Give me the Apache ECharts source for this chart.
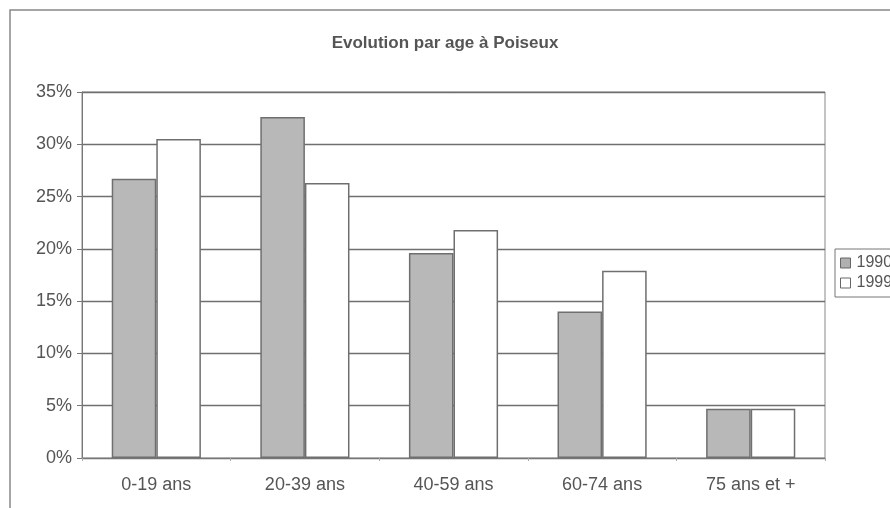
<!DOCTYPE html>
<html><head><meta charset="utf-8">
<script src="https://cdn.jsdelivr.net/npm/echarts@6/dist/echarts.min.js"></script>
<style>html,body{margin:0;padding:0;background:#fff}#c{width:890px;height:508px}</style>
</head><body><div id="c"></div>
<script>
const categories = ['0-19 ans', '20-39 ans', '40-59 ans', '60-74 ans', '75 ans et +'];
const values1990 = [26.7, 32.6, 19.6, 14.0, 4.7];
const values1999 = [30.5, 26.3, 21.8, 17.9, 4.7];
const seriesNames = ['1990', '1999'];
const title = 'Evolution par age à Poiseux';

const chart = echarts.init(document.getElementById('c'));
chart.setOption({
  backgroundColor: '#fff',
  animation: false,
  title: {
    text: title, left: 'center', top: 30,
    textStyle: { fontFamily: 'Liberation Sans, Arial', fontSize: 17, fontWeight: 'bold', color: '#555' }
  },
  graphic: [{
    type: 'polyline', shape: { points: [[10, 508], [10, 10], [890, 10]] },
    style: { stroke: '#888', lineWidth: 1.5, fill: null }
  }],
  legend: {
    orient: 'vertical', left: 835, top: 249, itemGap: 4,
    itemWidth: 10, itemHeight: 10, padding: [6, 5, 6, 5],
    borderColor: '#777', borderWidth: 1, borderRadius: 0,
    textStyle: { fontFamily: 'Liberation Sans, Arial', fontSize: 16, color: '#555', padding: [0, 0, 0, 1] },
    data: [
      { name: seriesNames[0], icon: 'rect', itemStyle: { color: '#b0b0b0', borderColor: '#666', borderWidth: 1 } },
      { name: seriesNames[1], icon: 'rect', itemStyle: { color: '#fff', borderColor: '#666', borderWidth: 1 } }
    ]
  },
  grid: { left: 82, right: 65, top: 92, bottom: 50, show: true, borderColor: '#888', borderWidth: 1, backgroundColor: '#fff' },
  xAxis: {
    type: 'category', data: categories,
    axisLine: { lineStyle: { color: '#777' } },
    axisTick: { show: true, alignWithLabel: false, length: 3, lineStyle: { color: '#aaa' } },
    axisLabel: { fontFamily: 'Liberation Sans, Arial', fontSize: 18, color: '#555', margin: 18 }
  },
  yAxis: {
    type: 'value', min: 0, max: 35, interval: 5,
    axisLine: { show: true, lineStyle: { color: '#777' } },
    axisTick: { show: true, length: 5, lineStyle: { color: '#777' } },
    splitLine: { lineStyle: { color: '#6f6f6f', width: 1.3 } },
    axisLabel: { fontFamily: 'Liberation Sans, Arial', fontSize: 18, color: '#555', margin: 10, formatter: v => v + '%' }
  },
  series: [
    { name: seriesNames[0], type: 'bar', data: values1990, barGap: '0%', barCategoryGap: '40%',
      itemStyle: { color: '#b8b8b8', borderColor: '#6f6f6f', borderWidth: 1.5 } },
    { name: seriesNames[1], type: 'bar', data: values1999,
      itemStyle: { color: '#fff', borderColor: '#6f6f6f', borderWidth: 1.5 } }
  ]
});
</script></body></html>
